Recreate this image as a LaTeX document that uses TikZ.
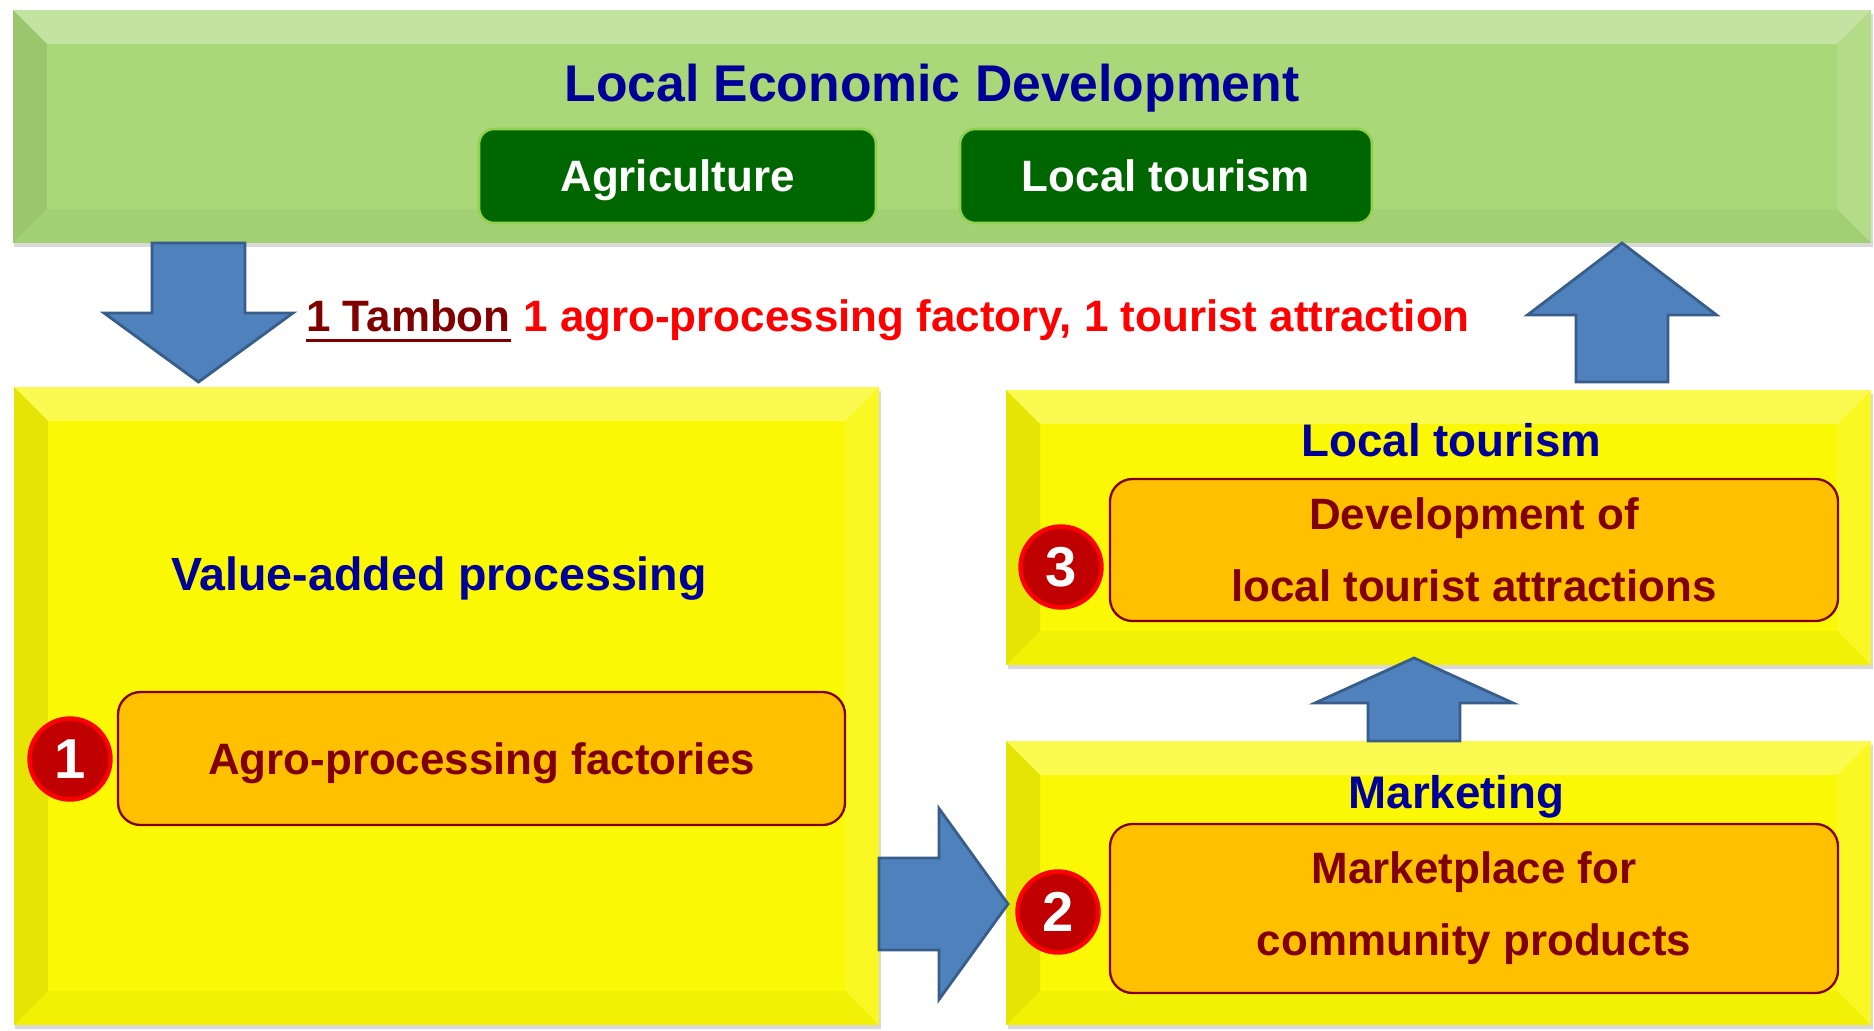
\documentclass[tikz,border=0pt]{standalone}
\usepackage{fontspec}
\setmainfont{Liberation Sans}
\usepackage{tikz}
\usetikzlibrary{calc}
\usetikzlibrary{positioning}
\usetikzlibrary{shadows}

\definecolor{ledgreen}{RGB}{170,215,120}
\definecolor{boxyellow}{RGB}{250,248,5}
\definecolor{tabgreen}{RGB}{0,102,0}
\definecolor{tabedge}{RGB}{146,208,80}
\definecolor{ambox}{RGB}{255,192,0}
\definecolor{darkred}{RGB}{128,0,0}
\definecolor{titleblue}{RGB}{0,0,153}
\definecolor{arrowblue}{RGB}{79,129,189}
\definecolor{arrowedge}{RGB}{56,93,138}
\definecolor{dotred}{RGB}{192,0,0}

\newcommand{\boldfont}[2]{\fontsize{#1}{#2}\selectfont\bfseries}
% tail, tip, half shaft, half head, head length
\newcommand{\blockarr}[5]{%
  \coordinate (ba-hb) at ($(#2)!#5!(#1)$);
  \draw[blockarrow] ($(#1)!#3!90:(#2)$) -- ($(ba-hb)!#3!90:(#2)$) -- ($(ba-hb)!#4!90:(#2)$) -- (#2)
    -- ($(ba-hb)!#4!-90:(#2)$) -- ($(ba-hb)!#3!-90:(#2)$) -- ($(#1)!#3!-90:(#2)$) -- cycle;
}

\tikzset{
bevel/.style={path picture={
            \fill[white,opacity=0.3] (path picture bounding box.north west) -- (path picture bounding box.north east) -- ++(-0.68,-0.68) -- ($(path picture bounding box.north west)+(0.68,-0.68)$) -- cycle;
            \fill[black,opacity=0.08] (path picture bounding box.north west) -- ++(0.68,-0.68) -- ($(path picture bounding box.south west)+(0.68,0.68)$) -- (path picture bounding box.south west) -- cycle;
            \fill[white,opacity=0.12] (path picture bounding box.north east) -- ++(-0.68,-0.68) -- ($(path picture bounding box.south east)+(-0.68,0.68)$) -- (path picture bounding box.south east) -- cycle;
            \fill[black,opacity=0.03] (path picture bounding box.south west) -- ++(0.68,0.68) -- ($(path picture bounding box.south east)+(-0.68,0.68)$) -- (path picture bounding box.south east) -- cycle;
            }},
panel/.style={rectangle, fill=#1, inner sep=0pt, outer sep=0pt, bevel,
            drop shadow={shadow xshift=0.03cm, shadow yshift=-0.08cm, opacity=0.3}},
paneltitle/.style={inner sep=0pt, text=titleblue, font=\boldfont{26}{31}},
greentab/.style={rectangle, rounded corners=0.3cm, fill=tabgreen, draw=tabedge, line width=1.5pt,
            text=white, font=\boldfont{25}{30}, text depth=0pt},
amboxnode/.style={rectangle, rounded corners=0.45cm, fill=ambox, draw=darkred, line width=1.3pt,
            text=darkred, font=\boldfont{25}{41}, align=center},
numdot/.style={circle, fill=dotred, draw=red, line width=2.5pt, minimum size=1.62cm, inner sep=0pt,
            text=white, font=\boldfont{32}{38}},
blockarrow/.style={fill=arrowblue, draw=arrowedge, line width=1.6pt, line join=miter}
}

\begin{document}
\begin{tikzpicture}[node distance=0.2cm]
\useasboundingbox (0,0) rectangle (37.48,20.6);

% panels
\node[panel=ledgreen, minimum width=37.16cm, minimum height=4.66cm] (led) at (18.84,18.07) {};
\node[panel=boxyellow, minimum width=17.3cm, minimum height=12.76cm] (vap) at (8.93,6.48) {};
\node[panel=boxyellow, minimum width=17.3cm, minimum height=5.5cm] (lt) at (28.77,10.05) {};
\node[panel=boxyellow, minimum width=17.3cm, minimum height=5.68cm] (mkt) at (28.77,2.94) {};

\node[paneltitle, font=\boldfont{29.4}{35}, anchor=base] (ledtitle) at (18.64,18.56) {Local Economic Development};
\node[greentab, minimum width=7.94cm, minimum height=1.88cm] (agri) at (13.55,17.08) {Agriculture};
\node[greentab, minimum width=8.24cm, minimum height=1.88cm] (tour) at (23.32,17.08) {Local tourism};

\node[paneltitle, font=\boldfont{26.5}{31}, anchor=base] (vaptitle) at (8.78,8.8) {Value-added processing};
\node[paneltitle, anchor=base] (lttitle) at (29.03,11.48) {Local tourism};
\node[paneltitle, anchor=base] (mkttitle) at (29.13,4.44) {Marketing};

\node[amboxnode, text depth=0pt, minimum width=14.54cm, minimum height=2.66cm] (factory) at (9.63,5.43) {Agro-processing factories};
\node[amboxnode, minimum width=14.56cm, minimum height=2.84cm] (attract) at (29.48,9.6) {Development of\\local tourist attractions};
\node[amboxnode, minimum width=14.56cm, minimum height=3.38cm] (market) at (29.48,2.43) {Marketplace for\\community products};

% slogan
\node[anchor=base west, inner sep=0pt, text=darkred, font=\boldfont{25}{30}] (tambon) at (6.12,13.96) {1 Tambon};
\node[base right=0.245cm of tambon, inner sep=0pt, text=red, font=\boldfont{25}{30}] (slogan) {1 agro-processing factory, 1 tourist attraction};
\draw[darkred, line width=1.7pt] ($(tambon.base west)+(0,-0.17)$) -- ($(tambon.base east)+(0,-0.17)$);

% arrows
\coordinate (downtail) at (3.97,0 |- led.south);
\coordinate (downtip) at ($(3.97,0 |- vap.north)+(0,0.1)$);
\coordinate (uptail) at ($(32.44,0 |- lt.north)+(0,0.16)$);
\coordinate (uptip) at (32.44,0 |- led.south);
\coordinate (righttail) at (vap.east |- 0,2.52);
\coordinate (righttip) at ($(mkt.west |- 0,2.52)+(0.04,0)$);
\coordinate (midtail) at (28.28,0 |- mkt.north);
\coordinate (midtip) at ($(28.28,0 |- lt.south)+(0,0.14)$);

\blockarr{downtail}{downtip}{0.93cm}{1.89cm}{1.38cm}
\blockarr{uptail}{uptip}{0.92cm}{1.89cm}{1.44cm}
\blockarr{righttail}{righttip}{0.92cm}{1.91cm}{1.38cm}
\blockarr{midtail}{midtip}{0.92cm}{1.98cm}{0.9cm}

\foreach \n/\x/\y in {1/1.4/5.42, 2/21.16/2.36, 3/21.22/9.26}
  \node[numdot] (dot\n) at (\x,\y) {\n};

\end{tikzpicture}
\end{document}
